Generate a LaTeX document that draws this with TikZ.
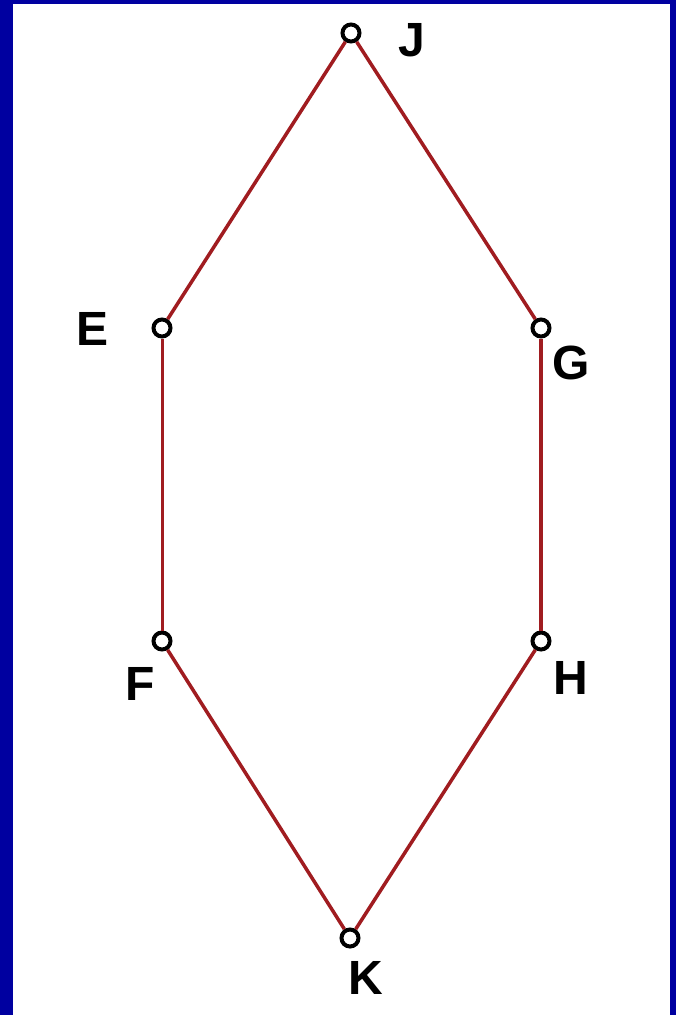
\documentclass[tikz,border=0pt]{standalone}
\usepackage{fontspec}
\setmainfont{Liberation Sans}
\usepackage{xcolor}
\usepackage{tikz}
\usetikzlibrary{positioning}
\definecolor{frameblue}{RGB}{0,0,160}
\definecolor{edgered}{RGB}{160,28,32}
\tikzset{
  vtx/.style={circle,draw=black,line width=4pt,fill=white,
             minimum size=17pt,inner sep=0pt},
  vlabel/.style={font=\bfseries\fontsize{48}{48}\selectfont,inner sep=0pt},
  edge/.style={edgered,line width=3.5pt},
}
\begin{document}
\begin{tikzpicture}[x=1pt,y=-1pt]
  % frame and page
  \fill[frameblue] (0,0) rectangle (676,1015);
  \fill[white] (13,4) rectangle (670,1015);
  % vertices
  \node[vtx] (J) at (351,33) {};
  \node[vtx] (E) at (162,328) {};
  \node[vtx] (G) at (541,328) {};
  \node[vtx] (F) at (162,641) {};
  \node[vtx] (H) at (541,641) {};
  \node[vtx] (K) at (350,938) {};
  % edges
  \draw[edge] (J) -- (E);
  \draw[edge] (J) -- (G);
  \draw[edge,line width=3pt] (E) -- (F);
  \draw[edge,line width=4.5pt] (G) -- (H);
  \draw[edge] (F) -- (K);
  \draw[edge] (H) -- (K);
  % labels
  \node[vlabel] (lJ) at (412,40) {J};
  \node[vlabel] (lE) at (93,329) {E};
  \node[vlabel] (lG) at (571,363) {G};
  \node[vlabel] (lF) at (140,684) {F};
  \node[vlabel] (lH) at (571,678) {H};
  \node[vlabel] (lK) at (366,978) {K};
\end{tikzpicture}
\end{document}
